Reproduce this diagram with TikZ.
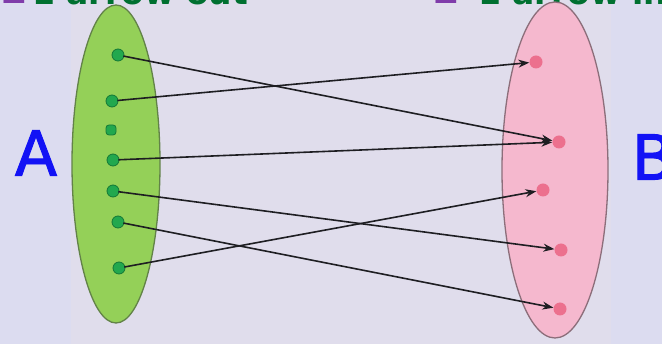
\documentclass[tikz,border=0pt]{standalone}
\usepackage{fontspec}
\setmainfont{DejaVu Sans}
\newfontfamily\setnamefont{DejaVu Sans}[FakeBold=1.5]
\usetikzlibrary{shapes.geometric,arrows.meta}
\definecolor{bgside}{RGB}{220,220,240}
\definecolor{bgmid}{RGB}{224,221,236}
\definecolor{greenfill}{RGB}{148,208,88}
\definecolor{greenline}{RGB}{98,130,72}
\definecolor{pinkfill}{RGB}{245,184,206}
\definecolor{pinkline}{RGB}{140,110,122}
\definecolor{gdot}{RGB}{34,168,78}
\definecolor{gdotline}{RGB}{20,120,55}
\definecolor{pdot}{RGB}{236,112,142}
\definecolor{arrowcol}{RGB}{30,30,34}
\definecolor{headgreen}{RGB}{0,112,48}
\definecolor{headpurple}{RGB}{128,60,170}
\definecolor{letterblue}{RGB}{18,18,245}
\tikzset{
  setshape/.style={ellipse, draw, line width=1.3pt, inner sep=0pt},
  gpoint/.style={circle, fill=gdot, draw=gdotline, line width=0.8pt, minimum size=12pt, inner sep=0pt},
  gsquare/.style={rectangle, rounded corners=3pt, fill=gdot, draw=gdotline, line width=0.8pt, minimum size=10pt, inner sep=0pt},
  ppoint/.style={circle, fill=pdot, minimum size=13pt, inner sep=0pt},
  maparrow/.style={draw=arrowcol, line width=1.6pt, -{Stealth[length=11pt,width=8pt]}, shorten <=-1pt, shorten >=0pt},
  setlabel/.style={text=letterblue, font=\setnamefont\fontsize{62}{62}\selectfont, inner sep=0pt},
  heading/.style={text=headgreen, font=\bfseries\fontsize{33}{33}\selectfont, inner sep=0pt, anchor=base west},
  headsym/.style={text=headpurple, font=\bfseries\fontsize{33}{33}\selectfont, inner sep=0pt, anchor=base west}
}
\begin{document}
\begin{tikzpicture}[x=1pt, y=-1pt]
  % canvas and background panels
  \clip (0,0) rectangle (662,344);
  \fill[bgside] (0,0) rectangle (662,344);
  \fill[bgmid] (71,0) rectangle (611,344);

  % headings, running off the top edge
  \node[headsym] (geq) at (0,4) {≥};
  \node[heading] (outtxt) at (32,4.5) {1 arrow out};
  \node[headsym] (leq) at (432,4) {≤};
  \node[heading] (intxt) at (478,4.5) {1 arrow in};

  % the two sets
  \node[setshape, fill=greenfill, draw=greenline, minimum width=88pt, minimum height=318pt] (setA) at (116,164) {};
  \node[setshape, fill=pinkfill, draw=pinkline, minimum width=106pt, minimum height=336pt] (setB) at (555,170) {};

  % set names
  \node[setlabel] (labA) at (36,153) {A};
  \node[setlabel] (labB) at (653,157) {B};

  % elements of A
  \node[gpoint] (a1) at (118,55) {};
  \node[gpoint] (a2) at (112,101) {};
  \node[gsquare] (a3) at (111,130) {};
  \node[gpoint] (a4) at (113,160) {};
  \node[gpoint] (a5) at (113,191) {};
  \node[gpoint] (a6) at (118,222) {};
  \node[gpoint] (a7) at (119,268) {};

  % elements of B
  \node[ppoint] (b1) at (536,62) {};
  \node[ppoint] (b2) at (559,142) {};
  \node[ppoint] (b3) at (543,190) {};
  \node[ppoint] (b4) at (561,250) {};
  \node[ppoint] (b5) at (560,309) {};

  % the mapping
  \draw[maparrow] (a1) -- (b2);
  \draw[maparrow] (a2) -- (b1);
  \draw[maparrow] (a4) -- (b2);
  \draw[maparrow] (a5) -- (b4);
  \draw[maparrow] (a6) -- (b5);
  \draw[maparrow] (a7) -- (b3);
\end{tikzpicture}
\end{document}
